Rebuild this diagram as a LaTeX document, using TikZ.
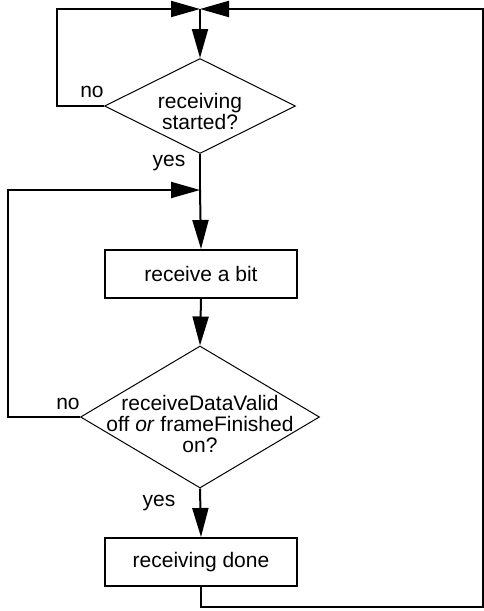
\documentclass[tikz,border=0pt]{standalone}
\usepackage{fontspec}
\setmainfont{Liberation Sans}
\usetikzlibrary{arrows.meta,shapes.geometric}
\begin{document}
\begin{tikzpicture}[x=1pt,y=-1pt,
  txt/.style={font=\fontsize{21}{21}\selectfont, align=center, inner sep=0pt},
  box/.style={draw, line width=2pt, minimum width=192pt, minimum height=48pt, inner sep=0pt, font=\fontsize{21}{21}\selectfont},
  dia/.style={draw, diamond, line width=1pt, inner sep=0pt},
  flow/.style={line width=2pt, -{Triangle[length=29pt,width=16pt]}},
  plain/.style={line width=2pt}]
\useasboundingbox (0,0) rectangle (484,611);
\node[dia, minimum width=191pt, minimum height=95pt] (d1) at (200,106) {};
\node[txt] (t1) at (200,111) {receiving\\started?};
\node[box] (b1) at (201,274) {receive a bit};
\node[dia, minimum width=239pt, minimum height=142pt] (d2) at (200,417) {};
\node[txt] (t2) at (200,424) {receiveDataValid\\off \textit{or} frameFinished\\on?};
\node[box] (b2) at (201,562) {receiving done};
\coordinate (J1) at (200,9);
\coordinate (J2) at (200,190);
\coordinate (tl) at (57,9);
\coordinate (ml) at (8,190);
\coordinate (br) at (483,607);
\coordinate (tr) at (483,9);
\node[txt] (no1) at (92,92) {no};
\node[txt] (yes1) at (169,163) {yes};
\node[txt] (no2) at (68,404) {no};
\node[txt] (yes2) at (159,503) {yes};
\draw[flow] (d1.west) -| (tl) -- (J1);
\draw[flow] (b2.south) |- (br) -- (tr) -- (J1);
\draw[flow] (J1) -- (d1.north);
\draw[plain] (d1.south) -- (J2);
\draw[flow] (J2) -- (b1.north);
\draw[flow] (d2.west) -| (ml) -- (J2);
\draw[flow] (b1.south) -- (d2.north);
\draw[flow] (d2.south) -- (b2.north);
\end{tikzpicture}
\end{document}
